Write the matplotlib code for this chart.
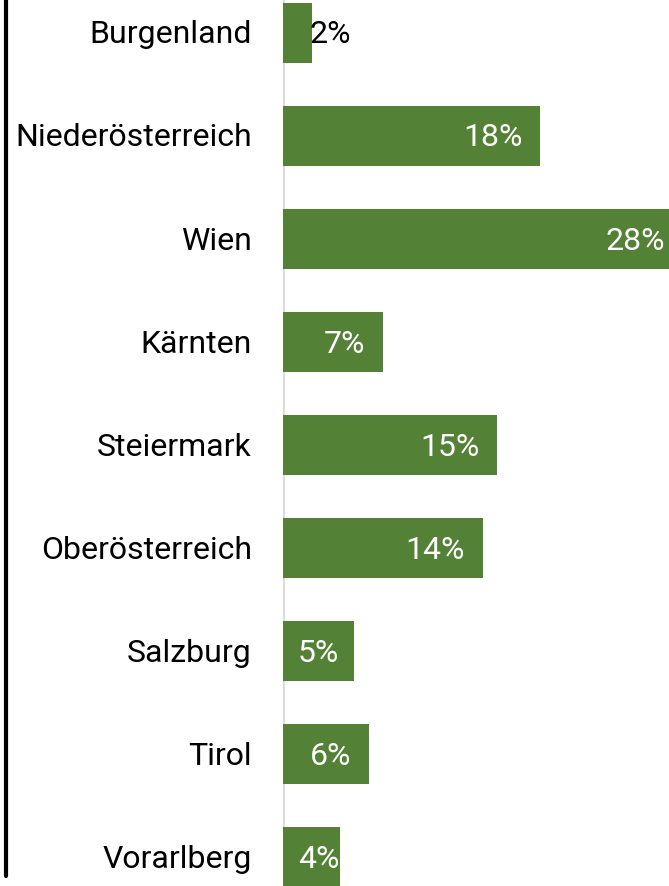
import matplotlib
matplotlib.use("Agg")
import matplotlib.pyplot as plt
from matplotlib.lines import Line2D
from matplotlib.transforms import offset_copy

categories = ["Burgenland", "Niederösterreich", "Wien", "Kärnten", "Steiermark",
              "Oberösterreich", "Salzburg", "Tirol", "Vorarlberg"]
values = [2, 18, 28, 7, 15, 14, 5, 6, 4]
value_labels = ["2%", "18%", "28%", "7%", "15%", "14%", "5%", "6%", "4%"]

plt.rcParams['font.family'] = ['Roboto', 'DejaVu Sans']

W, H = 669, 886
DPI = 100
fig = plt.figure(figsize=(W / DPI, H / DPI), dpi=DPI)
ax = fig.add_axes([283 / W, 0, 1 - 283 / W, 1])

green = "#538135"
y = list(range(len(categories)))
ax.barh(y, values, height=0.58, color=green, zorder=2)

ax.set_xlim(0, 27.0)
ax.set_ylim(8.28, -0.32)

for s in ax.spines.values():
    s.set_visible(False)
ax.axvline(0, color="#d9d9d9", lw=2, zorder=1)
ax.set_xticks([])
ax.set_yticks([])

FS = 23
BASE_DY = -10.5  # pixels: baseline below bar centre

# category labels
for yi, cat in zip(y, categories):
    tr = offset_copy(ax.transData, fig=fig, x=-31, y=BASE_DY, units="dots")
    ax.text(0, yi, cat, ha="right", va="baseline", fontsize=FS, color="black",
            transform=tr, clip_on=False)

fig.canvas.draw()
renderer = fig.canvas.get_renderer()
px_per_unit = ax.transData.transform((1, 0))[0] - ax.transData.transform((0, 0))[0]
pad_px = 18
min_left_px = 15

for yi, v, lab in zip(y, values, value_labels):
    if v < 3:
        tr = offset_copy(ax.transData, fig=fig, x=-2, y=BASE_DY, units="dots")
        ax.text(v, yi, lab, ha="left", va="baseline", fontsize=FS, color="black",
                transform=tr, clip_on=False, zorder=3)
    else:
        t = ax.text(0, yi, lab, ha="left", va="baseline", fontsize=FS, color="white",
                    clip_on=False, zorder=3)
        wpx = t.get_window_extent(renderer).width
        bar_px = v * px_per_unit
        left_px = max(bar_px - pad_px - wpx, min_left_px)
        t.set_transform(offset_copy(ax.transData, fig=fig, x=left_px, y=BASE_DY,
                                    units="dots"))

fig.add_artist(Line2D([6 / W, 6 / W], [1.0, 1 - 876 / H], transform=fig.transFigure,
                      color="black", lw=3, solid_capstyle="round"))

fig.savefig("out.png", dpi=DPI)
